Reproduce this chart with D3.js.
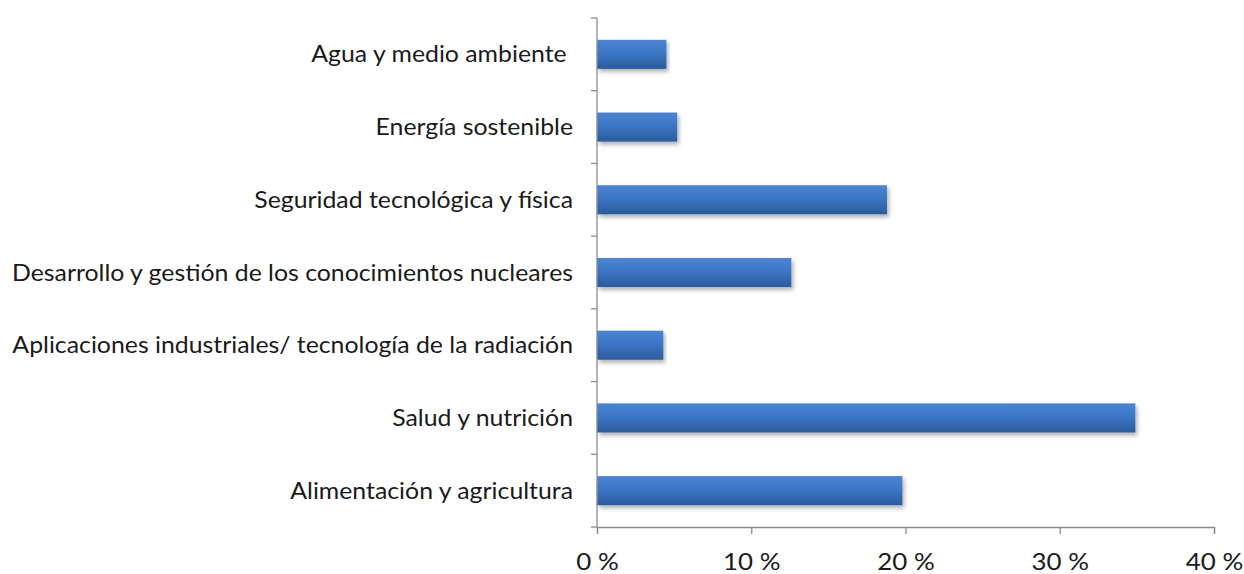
<!DOCTYPE html>
<html>
<head>
<meta charset="utf-8">
<script src="https://cdn.jsdelivr.net/npm/d3@7"></script>
<style>
  body { margin: 0; background: #fff; }
  svg text { font-family: Lato, "Open Sans", sans-serif; fill: #1a1a1a; white-space: pre; }
</style>
</head>
<body>
<div id="chart"></div>
<script>
// categories top to bottom
const categories = [
  "Agua y medio ambiente ",
  "Energía sostenible",
  "Seguridad tecnológica y física",
  "Desarrollo y gestión de los conocimientos nucleares",
  "Aplicaciones industriales/ tecnología de la radiación",
  "Salud y nutrición",
  "Alimentación y agricultura"
];
const values = [4.5, 5.2, 18.8, 12.6, 4.3, 34.9, 19.8];
const xTicks = [0, 10, 20, 30, 40];

const width = 1244, height = 574;
const margin = { top: 18, right: 30, bottom: 47, left: 597 };
const innerW = 1214 - margin.left;
const innerH = 527 - margin.top;
const stretch = 1.08; // labels in the original are a bit wider than Lato

const svg = d3.select("#chart").append("svg")
  .attr("width", width)
  .attr("height", height);

const defs = svg.append("defs");
const grad = defs.append("linearGradient")
  .attr("id", "barGrad")
  .attr("x1", 0).attr("y1", 0).attr("x2", 0).attr("y2", 1);
grad.append("stop").attr("offset", "0%").attr("stop-color", "#4a85d3");
grad.append("stop").attr("offset", "45%").attr("stop-color", "#3c76c4");
grad.append("stop").attr("offset", "100%").attr("stop-color", "#2c5b9c");

const shadow = defs.append("filter").attr("id", "shadow")
  .attr("x", "-5%").attr("y", "-20%").attr("width", "110%").attr("height", "160%");
shadow.append("feDropShadow")
  .attr("dx", 2).attr("dy", 3).attr("stdDeviation", 2)
  .attr("flood-color", "#000").attr("flood-opacity", 0.3);

const g = svg.append("g")
  .attr("transform", `translate(${margin.left},${margin.top})`);

const x = d3.scaleLinear().domain([0, 40]).range([0, innerW]);
const y = d3.scaleBand().domain(categories).range([0, innerH]).paddingInner(0.6).paddingOuter(0.3);
const yBoundary = d3.scaleLinear().domain([0, categories.length]).range([0, innerH]);

// bars
g.selectAll("rect.bar")
  .data(categories)
  .join("rect")
  .attr("class", "bar")
  .attr("x", 0)
  .attr("y", d => y(d))
  .attr("width", (d, i) => x(values[i]))
  .attr("height", y.bandwidth())
  .attr("fill", "url(#barGrad)")
  .attr("filter", "url(#shadow)");

// y axis line + tick marks at category boundaries
g.append("line")
  .attr("x1", 0).attr("x2", 0)
  .attr("y1", 0).attr("y2", innerH)
  .attr("stroke", "#8c8c8c").attr("stroke-width", 1.3);

g.selectAll("line.ytick")
  .data(d3.range(categories.length + 1))
  .join("line")
  .attr("class", "ytick")
  .attr("x1", -6).attr("x2", 0)
  .attr("y1", d => yBoundary(d)).attr("y2", d => yBoundary(d))
  .attr("stroke", "#8c8c8c").attr("stroke-width", 1.3);

g.selectAll("g.ylab")
  .data(categories)
  .join("g")
  .attr("class", "ylab")
  .attr("transform", d => `translate(-24,${y(d) + y.bandwidth() / 2}) scale(${stretch},1)`)
  .append("text")
  .attr("dy", "0.35em")
  .attr("text-anchor", "end")
  .attr("font-size", "23px")
  .text(d => d);

// x axis
const xAxis = g.append("g")
  .attr("transform", `translate(0,${innerH})`)
  .call(d3.axisBottom(x).tickValues(xTicks).tickSize(7).tickPadding(19).tickFormat(d => `${d} %`));
xAxis.select(".domain").attr("stroke", "#8c8c8c").attr("stroke-width", 1.3);
xAxis.selectAll(".tick line").attr("stroke", "#8c8c8c").attr("stroke-width", 1.3);
xAxis.selectAll(".tick text")
  .attr("font-size", "24px")
  .attr("font-family", "Lato, sans-serif")
  .attr("fill", "#1a1a1a")
  .attr("transform", `scale(${stretch},1)`);
</script>
</body>
</html>
